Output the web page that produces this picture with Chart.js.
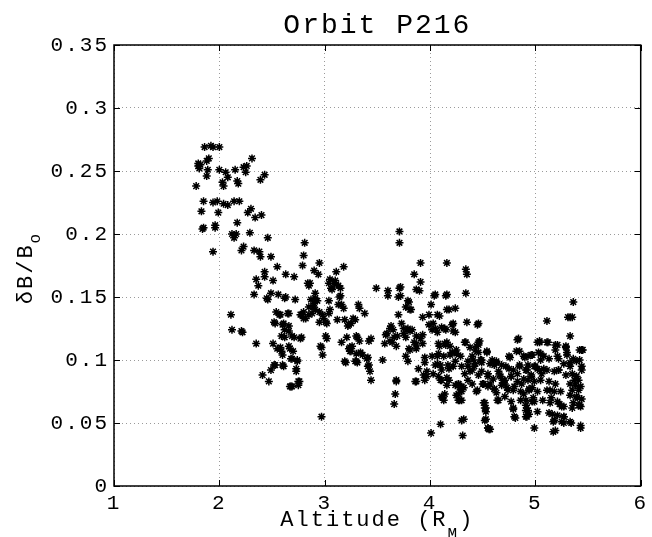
<!DOCTYPE html>
<html>
<head>
<meta charset="utf-8">
<script src="https://cdn.jsdelivr.net/npm/chart.js@4/dist/chart.umd.min.js"></script>
<style>
  html, body { margin: 0; padding: 0; background: #fff; }
  #wrap { width: 652px; height: 537px; }
</style>
</head>
<body>
<div id="wrap"><canvas id="orbitChart" width="652" height="537"></canvas></div>
<script>
// tick labels
const xTickLabels = ['1', '2', '3', '4', '5', '6'];
const yTickLabels = ['0', '0.05', '0.1', '0.15', '0.2', '0.25', '0.3', '0.35'];

// [altitude (R_M), dB/Bo], by altitude band
const band18to25 = [
  [1.78,0.238],[1.80,0.254],[1.80,0.256],[1.81,0.252],[1.82,0.255],[1.86,0.269],[1.88,0.258],[1.90,0.260],
  [1.92,0.270],[1.94,0.269],[2.00,0.269],[1.89,0.251],[1.88,0.246],[1.83,0.218],[1.84,0.204],[1.85,0.205],
  [1.85,0.226],[1.94,0.225],[1.98,0.226],[2.04,0.224],[2.08,0.223],[2.14,0.226],[2.19,0.226],[1.99,0.217],
  [1.96,0.205],[1.96,0.207],[1.94,0.186],[2.00,0.251],[2.03,0.241],[2.04,0.238],[2.06,0.249],[2.08,0.245],
  [2.15,0.251],[2.17,0.242],[2.18,0.240],[2.23,0.253],[2.26,0.254],[2.25,0.249],[2.31,0.260],[2.39,0.243],
  [2.43,0.247],[2.27,0.217],[2.30,0.220],[2.34,0.213],[2.40,0.215],[2.17,0.209],[2.12,0.200],[2.14,0.197],
  [2.16,0.200],[2.29,0.201],[2.21,0.187],[2.23,0.190],[2.33,0.187],[2.38,0.186],[2.39,0.182],[2.46,0.197],
  [2.49,0.182],[2.11,0.136],[2.12,0.124],[2.21,0.123],[2.22,0.122],[2.35,0.113],[2.33,0.152],[2.35,0.164],
  [2.37,0.159],[2.43,0.170],[2.43,0.166],[2.45,0.149],[2.46,0.148],[2.49,0.153],[2.41,0.088],[2.47,0.083],
  [2.49,0.092]
];

const band25to35 = [
  [2.51,0.163],[2.53,0.129],[2.54,0.138],[2.55,0.174],[2.58,0.136],[2.56,0.152],[2.51,0.113],[2.53,0.096],
  [2.58,0.110],[2.60,0.104],[2.62,0.118],[2.61,0.129],[2.62,0.149],[2.63,0.168],[2.66,0.127],[2.66,0.137],
  [2.61,0.095],[2.67,0.109],[2.69,0.101],[2.67,0.079],[2.69,0.079],[2.71,0.166],[2.72,0.148],[2.71,0.118],
  [2.73,0.091],[2.74,0.099],[2.75,0.080],[2.75,0.083],[2.78,0.118],[2.78,0.136],[2.82,0.133],[2.80,0.138],
  [2.79,0.175],[2.80,0.183],[2.81,0.193],[2.85,0.159],[2.86,0.161],[2.89,0.142],[2.91,0.149],[2.91,0.153],
  [2.93,0.147],[2.88,0.137],[2.90,0.171],[2.94,0.168],[2.95,0.177],[2.95,0.138],[2.95,0.130],[2.97,0.110],
  [2.98,0.104],[2.97,0.055],[2.99,0.133],[3.01,0.130],[3.01,0.119],[3.02,0.117],[3.04,0.147],[3.04,0.137],
  [3.06,0.157],[3.09,0.161],[3.11,0.160],[3.13,0.159],[3.15,0.157],[3.11,0.170],[3.18,0.174],[3.12,0.132],
  [3.15,0.151],[3.16,0.144],[3.18,0.141],[3.19,0.132],[3.16,0.114],[3.21,0.118],[3.20,0.098],[3.24,0.110],
  [3.25,0.107],[3.25,0.129],[3.29,0.132],[3.32,0.144],[3.33,0.141],[3.31,0.118],[3.33,0.115],[3.31,0.098],
  [3.34,0.106],[3.36,0.104],[3.38,0.137],[3.41,0.102],[3.42,0.096],[3.43,0.091],[3.44,0.084],[3.42,0.115],
  [3.44,0.117],[3.49,0.157],[2.63,0.150],[2.57,0.136],[2.65,0.137],[2.77,0.136],[2.80,0.133],[2.85,0.136],
  [2.98,0.136],[3.07,0.156],[3.05,0.140],[3.13,0.144],[3.27,0.133],[3.23,0.128],[2.52,0.130],[2.60,0.128],
  [2.62,0.124],[2.66,0.123],[2.59,0.119],[2.69,0.119],[2.77,0.117],[2.55,0.109],[2.59,0.107],[2.66,0.111],
  [2.70,0.107],[2.68,0.101],[2.74,0.100],[2.96,0.111],[3.26,0.111],[3.24,0.107],[2.52,0.096],[2.60,0.096],
  [2.73,0.093],[3.19,0.099],[3.29,0.099],[2.87,0.148],[2.90,0.145],[2.85,0.142],[2.91,0.140],[2.84,0.161],
  [3.04,0.161],[3.05,0.164],[3.10,0.163],[3.14,0.150],[3.02,0.129],[3.22,0.127],[3.30,0.119],[3.23,0.109],
  [3.30,0.105],[3.40,0.101],[3.30,0.099],[3.41,0.095],[2.76,0.083],[2.68,0.079]
];

const band35to44 = [
  [3.55,0.100],[3.57,0.113],[3.59,0.121],[3.62,0.125],[3.63,0.127],[3.60,0.155],[3.60,0.151],[3.62,0.115],
  [3.64,0.114],[3.66,0.065],[3.67,0.073],[3.68,0.084],[3.68,0.083],[3.66,0.118],[3.68,0.111],[3.70,0.136],
  [3.71,0.202],[3.71,0.193],[3.71,0.157],[3.72,0.151],[3.70,0.150],[3.73,0.129],[3.75,0.125],[3.75,0.121],
  [3.77,0.118],[3.79,0.125],[3.81,0.123],[3.77,0.142],[3.79,0.147],[3.81,0.140],[3.77,0.103],[3.79,0.099],
  [3.81,0.108],[3.85,0.114],[3.87,0.109],[3.85,0.168],[3.91,0.177],[3.87,0.156],[3.90,0.155],[3.87,0.083],
  [3.89,0.093],[3.91,0.162],[3.91,0.117],[3.93,0.113],[3.93,0.120],[3.95,0.102],[3.95,0.098],[3.97,0.091],
  [3.95,0.084],[3.97,0.087],[3.99,0.136],[3.99,0.128],[4.01,0.144],[4.01,0.042],[4.03,0.089],[4.05,0.096],
  [4.03,0.129],[4.05,0.125],[4.07,0.122],[4.05,0.152],[4.07,0.136],[4.09,0.135],[4.07,0.103],[4.09,0.111],
  [4.10,0.096],[4.11,0.084],[4.10,0.049],[4.12,0.070],[4.14,0.073],[4.14,0.113],[4.16,0.114],[4.14,0.125],
  [4.15,0.124],[4.16,0.152],[4.16,0.140],[4.18,0.140],[4.16,0.177],[4.17,0.096],[4.18,0.084],[4.19,0.104],
  [4.21,0.106],[4.22,0.129],[4.22,0.123],[4.24,0.141],[4.24,0.099],[4.25,0.108],[4.27,0.081],[4.28,0.078],
  [4.27,0.073],[4.28,0.068],[4.30,0.068],[4.31,0.040],[4.32,0.053],[4.32,0.078],[4.34,0.172],[4.35,0.168],
  [4.34,0.153],[4.35,0.130],[4.34,0.114],[4.36,0.095],[4.38,0.091],[4.38,0.110],[4.11,0.126],[4.21,0.128],
  [4.24,0.122],[4.33,0.114],[4.08,0.113],[4.15,0.112],[4.19,0.111],[4.25,0.105],[4.29,0.103],[4.08,0.105],
  [4.13,0.103],[4.36,0.099],[4.07,0.097],[4.11,0.092],[4.18,0.093],[4.30,0.095],[4.33,0.089],[4.10,0.084],
  [4.16,0.080],[4.27,0.081],[4.30,0.079],[4.36,0.084],[4.11,0.071],[4.25,0.072],[4.27,0.068],[4.30,0.052],
  [3.72,0.158],[3.80,0.146],[3.82,0.140],[3.93,0.134],[4.04,0.151],[4.15,0.151],[3.78,0.124],[3.83,0.124],
  [3.87,0.119],[4.02,0.124],[3.80,0.109],[3.87,0.112],[4.02,0.103],[4.22,0.095],[3.94,0.088],[4.08,0.087],
  [4.16,0.086],[3.86,0.083],[4.24,0.080],[4.13,0.068],[4.30,0.075],[3.58,0.120],[3.65,0.124],[3.69,0.119]
];

const band44to55 = [
  [4.40,0.103],[4.41,0.100],[4.42,0.095],[4.44,0.111],[4.46,0.106],[4.46,0.114],[4.45,0.076],[4.46,0.129],
  [4.48,0.100],[4.49,0.098],[4.49,0.091],[4.50,0.081],[4.51,0.066],[4.53,0.062],[4.53,0.059],[4.53,0.053],
  [4.55,0.046],[4.56,0.045],[4.54,0.106],[4.55,0.087],[4.57,0.081],[4.59,0.100],[4.61,0.096],[4.63,0.098],
  [4.61,0.077],[4.63,0.074],[4.65,0.068],[4.65,0.091],[4.67,0.087],[4.69,0.084],[4.71,0.081],[4.73,0.078],
  [4.75,0.093],[4.76,0.102],[4.77,0.087],[4.79,0.076],[4.79,0.061],[4.81,0.054],[4.83,0.089],[4.84,0.117],
  [4.85,0.107],[4.85,0.096],[4.87,0.081],[4.89,0.073],[4.90,0.102],[4.92,0.092],[4.92,0.062],[4.92,0.055],
  [4.94,0.057],[4.96,0.087],[4.97,0.078],[4.98,0.070],[4.99,0.046],[5.00,0.095],[5.02,0.093],[5.02,0.114],
  [5.03,0.106],[5.05,0.100],[5.06,0.089],[5.08,0.093],[5.11,0.131],[5.12,0.114],[5.14,0.076],[5.15,0.070],
  [5.16,0.057],[5.17,0.051],[5.17,0.043],[5.19,0.044],[5.19,0.108],[5.21,0.103],[5.22,0.092],[5.23,0.065],
  [5.25,0.063],[5.27,0.055],[5.27,0.050],[5.29,0.111],[5.30,0.106],[5.31,0.134],[5.33,0.134],[5.35,0.134],
  [5.33,0.119],[5.36,0.146],[5.33,0.098],[5.35,0.089],[5.34,0.050],[5.35,0.076],[5.36,0.066],[5.37,0.084],
  [5.39,0.087],[5.40,0.070],[5.41,0.076],[5.42,0.100],[5.42,0.108],[5.42,0.064],[5.43,0.046],[5.44,0.092],
  [4.45,0.128],[4.46,0.112],[4.43,0.108],[4.54,0.107],[4.83,0.116],[4.82,0.107],[4.75,0.103],[4.89,0.103],
  [4.96,0.104],[4.43,0.097],[4.49,0.100],[4.57,0.097],[4.63,0.099],[4.68,0.096],[4.72,0.095],[4.79,0.092],
  [4.85,0.095],[4.93,0.096],[4.40,0.092],[4.46,0.088],[4.55,0.089],[4.60,0.085],[4.66,0.088],[4.71,0.084],
  [4.77,0.087],[4.83,0.083],[4.89,0.085],[4.96,0.088],[4.40,0.081],[4.51,0.081],[4.55,0.079],[4.61,0.077],
  [4.68,0.080],[4.74,0.076],[4.80,0.079],[4.86,0.075],[4.94,0.077],[4.44,0.075],[4.52,0.066],[4.52,0.062],
  [4.64,0.068],[4.71,0.071],[4.77,0.067],[4.86,0.068],[4.91,0.064],[4.97,0.067],[4.79,0.062],[4.91,0.060],
  [4.80,0.055],[4.91,0.055],[4.52,0.052],[4.55,0.046],[4.47,0.115],[4.57,0.045],
  [5.04,0.114],[5.11,0.114],[5.21,0.112],[5.29,0.110],[5.44,0.108],[4.93,0.103],[4.97,0.104],[5.05,0.105],
  [5.08,0.103],[5.13,0.101],[5.22,0.101],[5.30,0.104],[5.36,0.101],[5.39,0.099],[5.27,0.097],[5.33,0.095],
  [5.44,0.095],[4.91,0.092],[4.99,0.095],[5.04,0.092],[5.11,0.092],[5.18,0.091],[5.22,0.092],[5.29,0.088],
  [5.39,0.087],[5.41,0.084],[4.93,0.084],[4.99,0.083],[5.05,0.084],[5.13,0.083],[5.19,0.081],[5.33,0.081],
  [5.38,0.080],[5.43,0.079],[4.94,0.076],[5.02,0.075],[5.11,0.076],[5.18,0.075],[5.24,0.075],[5.33,0.072],
  [5.39,0.071],[5.44,0.069],[5.41,0.064],[4.91,0.068],[4.99,0.067],[5.07,0.068],[5.14,0.066],[5.21,0.067],
  [5.27,0.063],[5.35,0.062],[4.93,0.060],[5.02,0.059],[5.13,0.058],[5.21,0.056],[5.27,0.055],[5.18,0.052],
  [5.25,0.051],[5.33,0.051],[5.43,0.048],[5.04,0.115],[5.19,0.112],[5.45,0.108],[5.43,0.063]
];

const FONT = '"Liberation Mono", "DejaVu Sans Mono", monospace';

// box round the plot with inward ticks on all four sides, plus titles
const matlabAxes = {
  id: 'matlabAxes',
  beforeDraw(chart) {
    chart.ctx.letterSpacing = '2px';
  },
  afterDraw(chart) {
    const { ctx, chartArea: a, scales } = chart;
    ctx.save();
    ctx.strokeStyle = '#000';
    ctx.lineWidth = 1.5;
    ctx.strokeRect(a.left, a.top, a.right - a.left, a.bottom - a.top);

    const tl = 6;
    ctx.lineWidth = 1;
    ctx.beginPath();
    scales.x.ticks.forEach(t => {
      const px = Math.round(scales.x.getPixelForValue(t.value)) + 0.5;
      ctx.moveTo(px, a.bottom); ctx.lineTo(px, a.bottom - tl);
      ctx.moveTo(px, a.top); ctx.lineTo(px, a.top + tl);
    });
    scales.y.ticks.forEach(t => {
      const py = Math.round(scales.y.getPixelForValue(t.value)) + 0.5;
      ctx.moveTo(a.left, py); ctx.lineTo(a.left + tl, py);
      ctx.moveTo(a.right, py); ctx.lineTo(a.right - tl, py);
    });
    ctx.stroke();

    ctx.fillStyle = '#000';
    ctx.letterSpacing = '2px';
    ctx.textBaseline = 'alphabetic';

    // title
    ctx.textAlign = 'center';
    ctx.font = '28px ' + FONT;
    ctx.fillText('Orbit P216', (a.left + a.right) / 2, 33);

    // x axis title with subscript
    ctx.textAlign = 'left';
    const mainFont = '22px ' + FONT;
    const subFont = '16px ' + FONT;
    ctx.font = mainFont;
    const w1 = ctx.measureText('Altitude (R').width;
    const w3 = ctx.measureText(')').width;
    ctx.font = subFont;
    const w2 = ctx.measureText('M').width;
    let x0 = (a.left + a.right) / 2 - (w1 + w2 + w3) / 2;
    ctx.font = mainFont;
    ctx.fillText('Altitude (R', x0, 526);
    ctx.font = subFont;
    ctx.fillText('M', x0 + w1, 539);
    ctx.font = mainFont;
    ctx.fillText(')', x0 + w1 + w2, 526);

    // y axis title, rotated, with subscript
    ctx.font = mainFont;
    const v1 = ctx.measureText('\u03b4B/B').width;
    ctx.font = subFont;
    const v2 = ctx.measureText('o').width;
    ctx.translate(32, 268);
    ctx.rotate(-Math.PI / 2);
    ctx.font = mainFont;
    ctx.fillText('\u03b4B/B', -(v1 + v2) / 2, 0);
    ctx.font = subFont;
    ctx.fillText('o', -(v1 + v2) / 2 + v1, 8);
    ctx.restore();
  }
};

const allPoints = [...band18to25, ...band25to35, ...band35to44, ...band44to55];

new Chart(document.getElementById('orbitChart').getContext('2d'), {
  type: 'scatter',
  data: {
    datasets: [{
      data: allPoints.map(([x, y]) => ({ x, y })),
      pointStyle: 'star',
      pointRadius: 4,
      borderColor: '#000',
      backgroundColor: '#000',
      borderWidth: 1.5
    }]
  },
  options: {
    responsive: false,
    animation: false,
    devicePixelRatio: 1,
    layout: { padding: { top: 45, right: 4, left: 0, bottom: 0 } },
    plugins: { legend: { display: false }, tooltip: { enabled: false }, title: { display: false } },
    scales: {
      x: {
        type: 'linear',
        min: 1,
        max: 6,
        afterFit(scale) { scale.height = 51; },
        ticks: {
          stepSize: 1,
          maxRotation: 0,
          autoSkip: false,
          padding: 5,
          color: '#000',
          font: { family: FONT, size: 21 },
          callback: (v, i) => xTickLabels[i]
        },
        grid: { color: '#9a9a9a', lineWidth: 1, drawTicks: false },
        border: { display: false, dash: [1, 3] }
      },
      y: {
        min: 0,
        max: 0.35,
        afterFit(scale) { scale.width = 114; },
        ticks: {
          stepSize: 0.05,
          autoSkip: false,
          padding: 5,
          color: '#000',
          font: { family: FONT, size: 21 },
          callback: (v, i) => yTickLabels[i]
        },
        grid: { color: '#9a9a9a', lineWidth: 1, drawTicks: false },
        border: { display: false, dash: [1, 3] }
      }
    }
  },
  plugins: [matlabAxes]
});
</script>
</body>
</html>
